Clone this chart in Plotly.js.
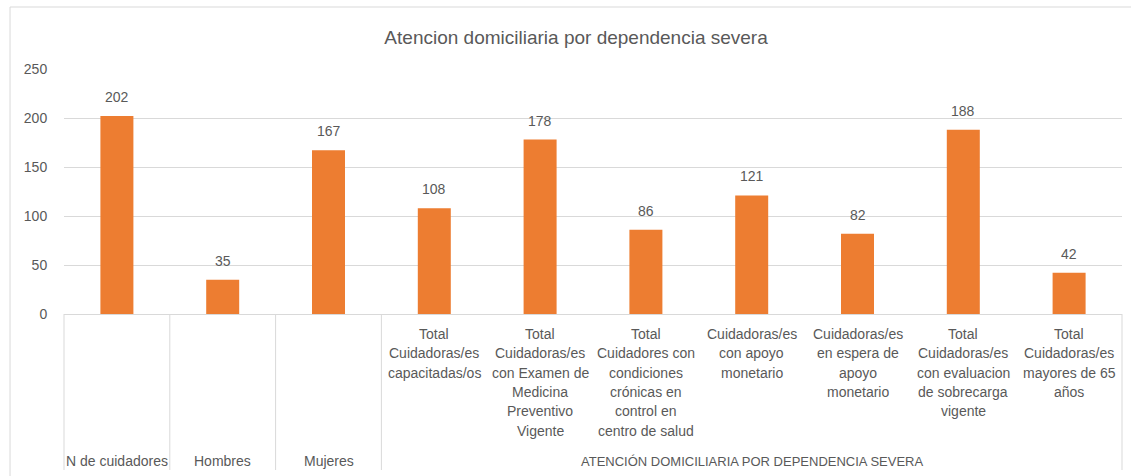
<!DOCTYPE html>
<html><head><meta charset="utf-8">
<script src="https://cdn.plot.ly/plotly-3.0.1.min.js"></script>
<style>html,body{margin:0;padding:0;background:#fff}#chart{width:1131px;height:476px}</style>
</head><body><div id="chart"></div>
<script>
const chartTitle = "Atencion domiciliaria por dependencia severa";
const categories = [
  "N de cuidadores",
  "Hombres",
  "Mujeres",
  "Total Cuidadoras/es capacitadas/os",
  "Total Cuidadoras/es con Examen de Medicina Preventivo Vigente",
  "Total Cuidadores con condiciones crónicas en control en centro de salud",
  "Cuidadoras/es con apoyo monetario",
  "Cuidadoras/es en espera de apoyo monetario",
  "Total Cuidadoras/es con evaluacion de sobrecarga vigente",
  "Total Cuidadoras/es mayores de 65 años"
];
const values = [202, 35, 167, 108, 178, 86, 121, 82, 188, 42];
// inner-row tick labels (as wrapped in the picture); first three are outer-level only
const innerLabels = [
  "", "", "",
  "Total<br>Cuidadoras/es<br>capacitadas/os",
  "Total<br>Cuidadoras/es<br>con Examen de<br>Medicina<br>Preventivo<br>Vigente",
  "Total<br>Cuidadores con<br>condiciones<br>crónicas en<br>control en<br>centro de salud",
  "Cuidadoras/es<br>con apoyo<br>monetario",
  "Cuidadoras/es<br>en espera de<br>apoyo<br>monetario",
  "Total<br>Cuidadoras/es<br>con evaluacion<br>de sobrecarga<br>vigente",
  "Total<br>Cuidadoras/es<br>mayores de 65<br>años"
];
const outerLabels = ["N de cuidadores", "Hombres", "Mujeres"];
const groupLabel = "ATENCIÓN DOMICILIARIA POR DEPENDENCIA SEVERA";
const groupStart = 3, groupEnd = 9;
const yTicks = [0, 50, 100, 150, 200, 250];

const TXT = "#595959", GRID = "#D9D9D9", BAR = "#ED7D31";
const FONT = "Liberation Sans, Arial, sans-serif";
const idx = categories.map((c, i) => i);
const PLOT_H = 245;           // plot-area height in px (margins below)
const LINE_STEP = 19.3 / PLOT_H;

const annotations = [];
values.forEach((v, i) => annotations.push({
  x: i, y: v, xref: "x", yref: "y", text: String(v), showarrow: false,
  yanchor: "middle", yshift: 19, font: {family: FONT, size: 14, color: TXT}
}));
innerLabels.forEach((t, i) => {
  if (!t) return;
  t.split("<br>").forEach((line, k) => annotations.push({
    x: i, y: -20 / PLOT_H - k * LINE_STEP, xref: "x", yref: "paper", text: line, showarrow: false,
    yanchor: "middle", align: "center", font: {family: FONT, size: 14, color: TXT}
  }));
});
outerLabels.forEach((t, i) => annotations.push({
  x: i, y: -147 / PLOT_H, xref: "x", yref: "paper", text: t, showarrow: false,
  yanchor: "middle", font: {family: FONT, size: 14, color: TXT}
}));
annotations.push({
  x: (groupStart + groupEnd) / 2, y: -147 / PLOT_H, xref: "x", yref: "paper", text: groupLabel,
  showarrow: false, yanchor: "middle", font: {family: FONT, size: 13, color: TXT}
});

const lineBottom = -156 / PLOT_H;
const shapes = [];
[0.5, 1.5, 2.5].forEach(b => shapes.push({type: "line", xref: "x", yref: "paper",
  x0: b, x1: b, y0: 0, y1: lineBottom, line: {color: GRID, width: 1}}));
[0, 1].forEach(b => shapes.push({type: "line", xref: "paper", yref: "paper",
  x0: b, x1: b, y0: 0, y1: lineBottom, line: {color: GRID, width: 1}}));
shapes.push({type: "rect", xref: "paper", yref: "paper", x0: -0.051, x1: 1.2, y0: -0.8, y1: 1.253,
  line: {color: GRID, width: 1}, fillcolor: "rgba(0,0,0,0)"});

Plotly.newPlot("chart", [{
  type: "bar", x: idx, y: values, marker: {color: BAR}, hoverinfo: "skip"
}], {
  width: 1131, height: 476,
  margin: {l: 64, r: 9, t: 69, b: 162},
  paper_bgcolor: "#fff", plot_bgcolor: "#fff",
  bargap: 0.688,
  showlegend: false,
  title: {text: chartTitle, x: 0.484, xref: "paper", xanchor: "center", y: 1 - 37 / 476, yref: "container",
    yanchor: "middle", font: {family: FONT, size: 19, color: TXT}},
  xaxis: {type: "linear", range: [-0.5, 9.5], showticklabels: false, showgrid: false, zeroline: false,
    showline: false, ticks: "", fixedrange: true},
  yaxis: {range: [0, 250], tickvals: yTicks, ticktext: yTicks.map(String), showgrid: true, gridcolor: GRID,
    zeroline: true, zerolinecolor: GRID, zerolinewidth: 1, showline: false,
    ticks: "outside", ticklen: 13, tickcolor: "rgba(0,0,0,0)",
    tickfont: {family: FONT, size: 14, color: TXT}, fixedrange: true},
  annotations: annotations,
  shapes: shapes
}, {staticPlot: true, displayModeBar: false});
</script>
</body></html>
